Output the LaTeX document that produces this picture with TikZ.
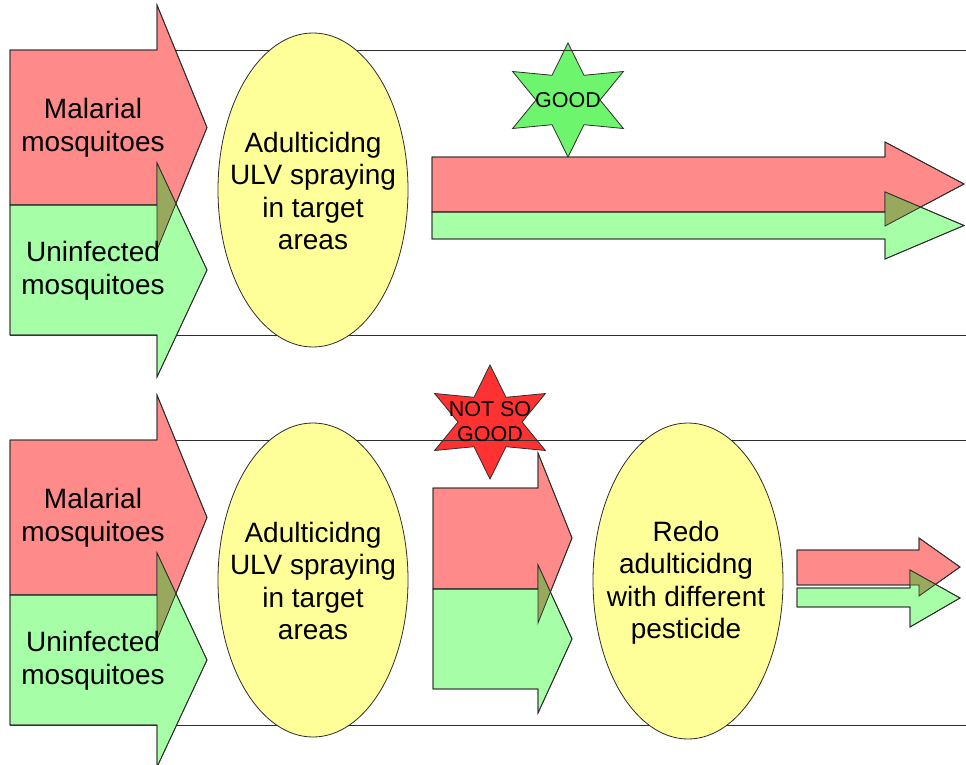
\documentclass[tikz,border=0pt]{standalone}
\usepackage{fontspec}
\setmainfont{Liberation Sans}
\usetikzlibrary{shapes.geometric}
\definecolor{redfill}{RGB}{255,138,138}
\definecolor{greenfill}{RGB}{166,255,166}
\definecolor{overlapfill}{RGB}{152,168,92}
\definecolor{ellfill}{RGB}{255,255,153}
\definecolor{goodstar}{RGB}{110,245,110}
\definecolor{badstar}{RGB}{255,50,50}
\definecolor{edge}{RGB}{45,45,45}
\tikzset{
  outline/.style={draw=edge, line width=0.8pt, line join=miter},
  redarrow/.style={outline, fill=redfill},
  greenarrow/.style={outline, fill=greenfill},
  panel/.style={draw=edge, line width=0.8pt},
  oval/.style={ellipse, outline, fill=ellfill, inner sep=0pt, minimum width=190pt},
  bodytext/.style={align=center, inner sep=0pt, font=\fontsize{28}{32.5}\selectfont},
  startext/.style={align=center, inner sep=0pt, font=\fontsize{21.5}{25}\selectfont}
}
\newcommand{\sixstar}[2]{%
  \filldraw[outline, fill=#1, shift={(#2)}] (0,-57) -- (16,-24.7) -- (55.4,-28.5) -- (32,0) -- (55.4,28.5) -- (16,24.7) -- (0,57) -- (-16,24.7) -- (-55.4,28.5) -- (-32,0) -- (-55.4,-28.5) -- (-16,-24.7) -- cycle;}
\newcommand{\arrowpair}[2]{%
  \filldraw[redarrow] #1;
  \filldraw[greenarrow] #2;
  \begin{scope}\clip #1; \fill[overlapfill] #2; \end{scope}
  \draw[outline] #1;
  \draw[outline] #2;}
\begin{document}
\begin{tikzpicture}[x=1pt,y=-1pt]
\useasboundingbox[fill=white] (0,0) rectangle (966,765);
% stars
\sixstar{goodstar}{568,100}
\sixstar{badstar}{490,422}
% panels
\draw[panel] (10,50) rectangle (990,335);
\draw[panel] (10,440) rectangle (990,725);
% ellipses
\node[oval, minimum height=314pt] (ell1) at (313,190) {};
\node[oval, minimum height=314pt] (ell2) at (313,580) {};
\node[oval, minimum height=316pt] (ell3) at (688,581) {};
\node[bodytext] (ell1text) at ([yshift=-1pt]ell1.center) {Adulticidng\\ULV spraying\\in target\\areas};
\node[bodytext] (ell2text) at ([yshift=-1pt]ell2.center) {Adulticidng\\ULV spraying\\in target\\areas};
\node[bodytext] (ell3text) at ([xshift=-2pt,yshift=-2pt]ell3.center) {Redo\\adulticidng\\with different\\pesticide};
% arrows top-left
\arrowpair{(10,50) -- (157,50) -- (157,5) -- (207,127.5) -- (157,250) -- (157,205) -- (10,205) -- cycle}
          {(10,205) -- (157,205) -- (157,163) -- (207,270) -- (157,377) -- (157,335) -- (10,335) -- cycle}
% arrows bottom-left
\arrowpair{(10,440) -- (157,440) -- (157,395) -- (207,517.5) -- (157,640) -- (157,595) -- (10,595) -- cycle}
          {(10,595) -- (157,595) -- (157,553) -- (207,660) -- (157,767) -- (157,725) -- (10,725) -- cycle}
% arrows top-right
\arrowpair{(432,157) -- (885,157) -- (885,142) -- (964,184) -- (885,226) -- (885,212) -- (432,212) -- cycle}
          {(432,212) -- (885,212) -- (885,192) -- (964,225.5) -- (885,259) -- (885,239) -- (432,239) -- cycle}
% arrows bottom-middle
\arrowpair{(433,488) -- (538,488) -- (538,453) -- (572,538) -- (538,623) -- (538,589) -- (433,589) -- cycle}
          {(433,589) -- (538,589) -- (538,565) -- (572,639) -- (538,713) -- (538,689) -- (433,689) -- cycle}
% arrows bottom-right
\arrowpair{(797,550) -- (919,550) -- (919,538) -- (960,567) -- (919,596) -- (919,585) -- (797,585) -- cycle}
          {(797,588) -- (910,588) -- (910,570) -- (960,598) -- (910,627) -- (910,607) -- (797,607) -- cycle}
% texts
\node[bodytext] (mal1) at (93,128) {Malarial\\mosquitoes};
\node[bodytext] (uni1) at (93,271) {Uninfected\\mosquitoes};
\node[bodytext] (mal2) at (93,518) {Malarial\\mosquitoes};
\node[bodytext] (uni2) at (93,661) {Uninfected\\mosquitoes};
\node[startext] (good) at (568,100) {GOOD};
\node[startext] (notsogood) at (490,422) {NOT SO\\GOOD};
\end{tikzpicture}
\end{document}
